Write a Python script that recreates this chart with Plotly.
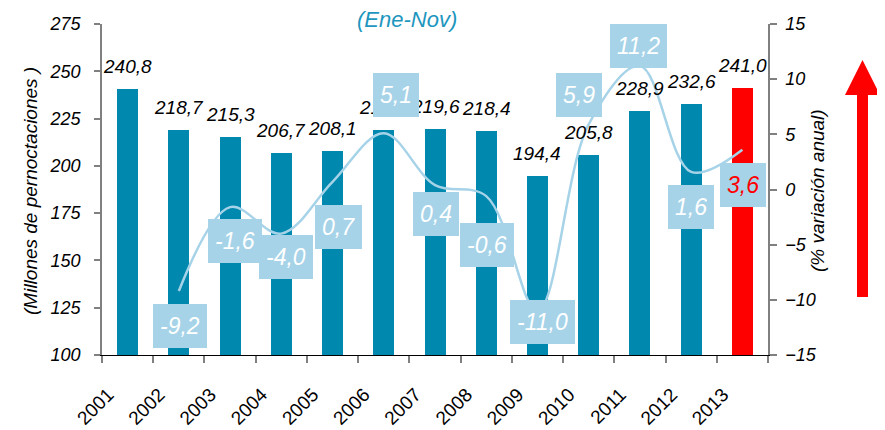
import plotly.graph_objects as go

years = ["2001", "2002", "2003", "2004", "2005", "2006", "2007",
         "2008", "2009", "2010", "2011", "2012", "2013"]
pernoctaciones = [240.8, 218.7, 215.3, 206.7, 208.1, 218.7, 219.6,
                  218.4, 194.4, 205.8, 228.9, 232.6, 241.0]
variacion = [-9.2, -1.6, -4.0, 0.7, 5.1, 0.4, -0.6, -11.0, 5.9, 11.2, 1.6, 3.6]
variacion_years = years[1:]

# label box offsets in pixels (layout only)
box_dx = [1, 5, 5, 6, 12, 1, 1, 5, -10, -1, 0, 1]
box_dy = [-35, -34, -23, -45, 38, -29, -49, -11, 29, 20, -35, -35]

TEAL = "#0088AE"
RED = "#FF0000"
LIGHT = "#A6D3E8"
FONT = "Liberation Sans, Arial, sans-serif"

# page body has an 8px margin; plot area kept at x 102..768, y 24..355 of the window
OFF = 8
L, T, W, H = 102, 24, 666, 331

idx = list(range(len(years)))
vidx = [years.index(y) for y in variacion_years]


def fmt(v):
    return f"{v:.1f}".replace(".", ",")


def px(v):
    return (v - L) / W


def py(v):
    return (T + H - v) / H


fig = go.Figure()
fig.add_trace(go.Bar(
    x=idx, y=pernoctaciones, width=0.41,
    marker=dict(color=[TEAL] * (len(years) - 1) + [RED], line=dict(width=0)),
    hoverinfo="skip", showlegend=False,
))
fig.add_trace(go.Scatter(
    x=vidx, y=variacion, yaxis="y2", mode="lines",
    line=dict(color=LIGHT, width=2.5, shape="spline", smoothing=1),
    hoverinfo="skip", showlegend=False,
))

annotations = []
for i, v in zip(idx, pernoctaciones):
    annotations.append(dict(
        x=i, y=v, xref="x", yref="y", text=fmt(v), showarrow=False,
        xanchor="center", yanchor="bottom", yshift=10,
        font=dict(family=FONT, size=19, color="black", style="italic"),
    ))
for k, (i, p) in enumerate(zip(vidx, variacion)):
    annotations.append(dict(
        x=i, y=p, xref="x", yref="y2", text=fmt(p), showarrow=False,
        xanchor="center", yanchor="middle",
        xshift=box_dx[k], yshift=box_dy[k],
        bgcolor=LIGHT, borderpad=7, borderwidth=0, height=30, valign="middle",
        font=dict(family=FONT, size=23,
                  color=RED if variacion_years[k] == "2013" else "white",
                  style="italic"),
    ))
annotations.append(dict(
    x=px(407), y=py(19), xref="paper", yref="paper",
    xanchor="center", yanchor="middle",
    text="(Ene-Nov)", showarrow=False,
    font=dict(family=FONT, size=22, color="#1E96BE", style="italic"),
))
annotations.append(dict(
    x=px(30), y=py(191), xref="paper", yref="paper",
    xanchor="center", yanchor="middle",
    text="(Millones de pernoctaciones )", showarrow=False, textangle=-90,
    font=dict(family=FONT, size=19, color="black", style="italic"),
))
annotations.append(dict(
    x=px(817), y=py(191), xref="paper", yref="paper",
    xanchor="center", yanchor="middle",
    text="(% variación anual)", showarrow=False, textangle=-90,
    font=dict(family=FONT, size=19, color="black", style="italic"),
))

arrow = (f"M {px(857)},{py(297)} L {px(868)},{py(297)} L {px(868)},{py(95)} "
         f"L {px(880)},{py(95)} L {px(862.5)},{py(60)} L {px(845)},{py(95)} "
         f"L {px(857)},{py(95)} Z")

fig.update_layout(
    width=885 - OFF, height=430 - OFF,
    margin=dict(l=L - OFF, r=885 - L - W, t=T - OFF, b=430 - T - H),
    paper_bgcolor="white", plot_bgcolor="white",
    bargap=0,
    annotations=annotations,
    shapes=[dict(type="path", path=arrow, xref="paper", yref="paper",
                 fillcolor=RED, line=dict(width=0))],
    xaxis=dict(
        range=[-0.5, len(years) - 0.5], automargin=False,
        tickmode="array", tickvals=[i - 0.38 for i in idx], ticktext=years,
        tickangle=-45, ticks="", showgrid=False, zeroline=False,
        showline=True, linecolor="black", linewidth=1.2,
        ticklabelstandoff=20,
        tickfont=dict(family=FONT, size=19, color="black"),
        minor=dict(tickmode="array", tickvals=[i - 0.5 for i in range(len(years) + 1)],
                   ticks="outside", ticklen=7, tickcolor="#808080", tickwidth=1.5,
                   showgrid=False),
    ),
    yaxis=dict(
        range=[100, 275], dtick=25, showgrid=False, zeroline=False, automargin=False,
        showline=True, linecolor="#808080", linewidth=1.5,
        ticks="outside", ticklen=6, tickcolor="#808080", tickwidth=1.5,
        ticklabelstandoff=10,
        tickfont=dict(family=FONT, size=18, color="black", style="italic"),
    ),
    yaxis2=dict(
        range=[-15, 15], dtick=5, overlaying="y", side="right", automargin=False,
        showgrid=False, zeroline=False,
        showline=True, linecolor="#808080", linewidth=1.5,
        ticks="outside", ticklen=7, tickcolor="#808080", tickwidth=1.5,
        ticklabelstandoff=5,
        tickfont=dict(family=FONT, size=18, color="black", style="italic"),
    ),
)

fig.write_html("out.html")
